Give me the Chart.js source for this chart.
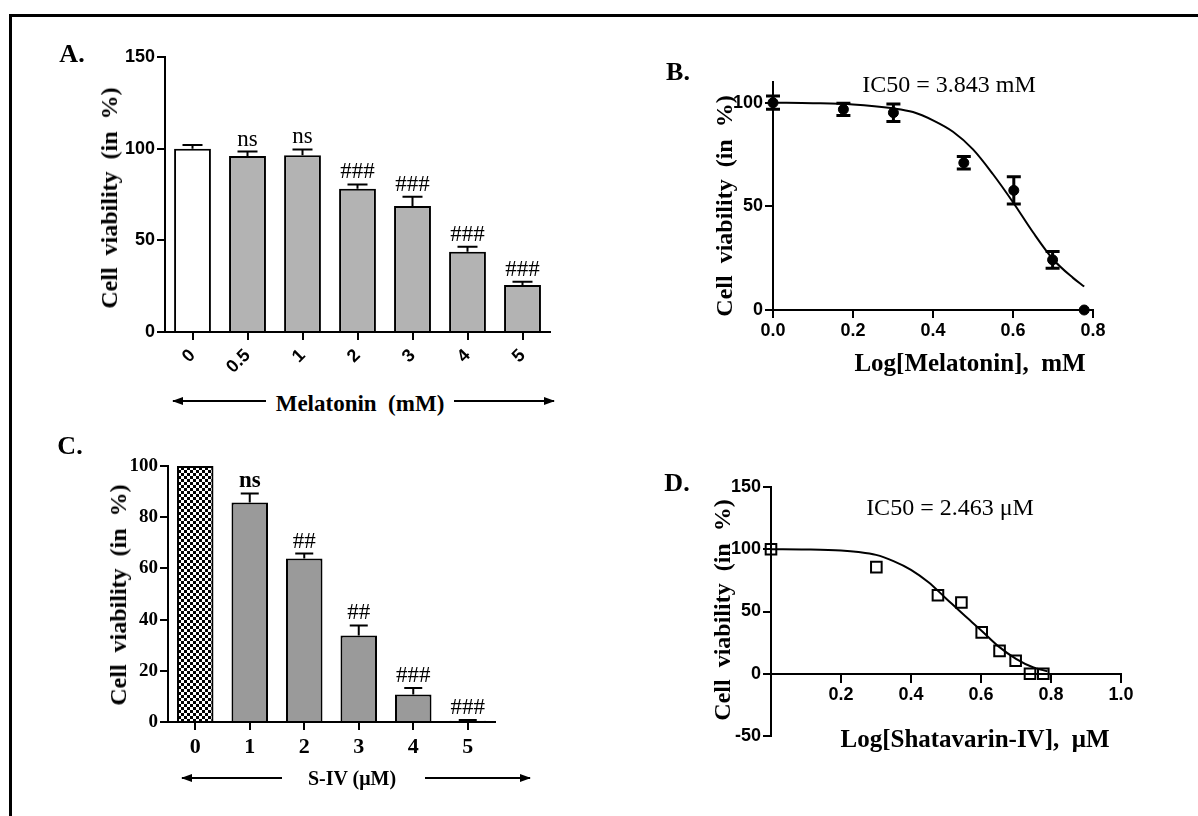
<!DOCTYPE html>
<html>
<head>
<meta charset="utf-8">
<script src="https://cdn.jsdelivr.net/npm/chart.js@4.4.1/dist/chart.umd.min.js"></script>
<style>
body { margin: 0; background: #fff; }
#fig { position: relative; width: 1198px; height: 816px; overflow: hidden; background: #fff; color: #000;
       font-family: 'Liberation Serif', 'Times New Roman', serif; }
#frame { position: absolute; left: 9px; top: 14px; width: 1300px; height: 900px;
         border-top: 3px solid #000; border-left: 3px solid #000; }
canvas { position: absolute; }
.t { position: absolute; white-space: pre; line-height: 1; transform: translate(-50%, -50%); }
.b { font-weight: bold; }
.rot { transform: translate(-50%, -50%) rotate(-90deg); }
</style>
</head>
<body>
<div id="fig">
  <div id="frame"></div>

  <canvas id="chartA" width="530" height="340" style="left:40px;top:40px"></canvas>
  <canvas id="chartB" width="480" height="290" style="left:680px;top:60px"></canvas>
  <canvas id="chartC" width="480" height="330" style="left:40px;top:440px"></canvas>
  <canvas id="chartD" width="480" height="290" style="left:680px;top:470px"></canvas>

  <!-- panel letters -->
  <div class="t b" style="left:72px;top:54px;font-size:26px">A.</div>
  <div class="t b" style="left:678px;top:72px;font-size:26px">B.</div>
  <div class="t b" style="left:70px;top:446px;font-size:26px">C.</div>
  <div class="t b" style="left:677px;top:483px;font-size:26px">D.</div>

  <!-- axis titles -->
  <div class="t b rot" style="left:109px;top:198px;font-size:24px">Cell  viability  (in  %)</div>
  <div class="t b rot" style="left:724px;top:206px;font-size:24px">Cell  viability  (in  %)</div>
  <div class="t b rot" style="left:118px;top:595px;font-size:24px">Cell  viability  (in  %)</div>
  <div class="t b rot" style="left:722px;top:610px;font-size:24px">Cell  viability  (in  %)</div>

  <div class="t b" style="left:360px;top:403px;font-size:23px">Melatonin  (mM)</div>
  <div class="t b" style="left:970px;top:362px;font-size:25px">Log[Melatonin],  mM</div>
  <div class="t b" style="left:352px;top:778px;font-size:20px">S-IV (μM)</div>
  <div class="t b" style="left:975px;top:738px;font-size:25px">Log[Shatavarin-IV],  μM</div>

  <div class="t" style="left:949px;top:84px;font-size:24px">IC50 = 3.843 mM</div>
  <div class="t" style="left:950px;top:507px;font-size:24px">IC50 = 2.463 μM</div>

  <svg width="1198" height="816" style="position:absolute;left:0;top:0">
    <defs>
      <marker id="ah" markerWidth="11" markerHeight="8" refX="10" refY="4" orient="auto" markerUnits="userSpaceOnUse">
        <path d="M0,0 L11,4 L0,8 z" fill="#000"/>
      </marker>
    </defs>
    <line x1="266" y1="401" x2="173" y2="401" stroke="#000" stroke-width="2" marker-end="url(#ah)"/>
    <line x1="454" y1="401" x2="554" y2="401" stroke="#000" stroke-width="2" marker-end="url(#ah)"/>
    <line x1="282" y1="778" x2="182" y2="778" stroke="#000" stroke-width="2" marker-end="url(#ah)"/>
    <line x1="425" y1="778" x2="530" y2="778" stroke="#000" stroke-width="2" marker-end="url(#ah)"/>
  </svg>
</div>

<script>
// ---- data ----
// A: melatonin bars
var melCats = ['0', '0.5', '1', '2', '3', '4', '5'];
var melVals = [100, 96, 96.4, 78.2, 68.7, 43.8, 25.6];
var melErr  = [2, 2.4, 3.2, 2.3, 5.1, 2.7, 1.8];
var melSig  = ['', 'ns', 'ns', '###', '###', '###', '###'];
var ticksAY = [0, 50, 100, 150];

// B: melatonin dose response
var melLog  = [0, 0.176, 0.301, 0.477, 0.602, 0.699, 0.778];
var melPts  = [100, 96.8, 95.2, 71, 57.7, 24.2, 0];
var melPtsErr = [3.2, 3, 4.2, 3, 6.6, 4, 0];
var fitBX   = [0, 0.1, 0.2, 0.3, 0.35, 0.4, 0.45, 0.5, 0.55, 0.6, 0.65, 0.7, 0.75, 0.778];
var fitBY   = [100, 99.8, 99.2, 97.3, 95.5, 91.5, 86, 77.5, 65.5, 52, 37.5, 24.5, 15.5, 11.3];
var ticksBX = [0, 0.2, 0.4, 0.6, 0.8];
var ticksBY = [0, 50, 100];

// C: S-IV bars
var sivCats = ['0', '1', '2', '3', '4', '5'];
var sivVals = [100, 85.7, 63.9, 33.8, 10.7, 0.5];
var sivErr  = [0, 3.6, 1.9, 3.9, 2.6, 0.3];
var sivSig  = ['', 'ns', '##', '##', '###', '###'];
var ticksCY = [0, 20, 40, 60, 80, 100];

// D: shatavarin dose response
var sivLog  = [0, 0.301, 0.477, 0.544, 0.602, 0.653, 0.699, 0.740, 0.778];
var sivPts  = [100, 85.6, 63.1, 57.2, 33.2, 18.4, 10.4, 0, 0];
var fitDX   = [0, 0.1, 0.2, 0.25, 0.3, 0.35, 0.4, 0.45, 0.5, 0.55, 0.6, 0.65, 0.7, 0.75, 0.79];
var fitDY   = [100, 99.8, 99, 97.8, 95.5, 90.5, 83.5, 73.5, 60.5, 47.5, 35, 22, 12, 5, 2];
var ticksDX = [0.2, 0.4, 0.6, 0.8, 1.0];
var ticksDY = [-50, 0, 50, 100, 150];

var SANS = "'Liberation Sans', Arial, sans-serif";
var SERIF = "'Liberation Serif', 'Times New Roman', serif";

Chart.defaults.color = '#000';
Chart.defaults.font.family = SANS;

function pts(xs, ys) {
    return xs.map(function (x, i) { return {x: x, y: ys[i]}; });
}

// error bars + significance marks, one plugin per chart
function errorBars(o) {
    return {
        id: 'errorBars',
        afterDatasetsDraw: function (chart) {
            var meta = chart.getDatasetMeta(o.dataset);
            var data = chart.data.datasets[o.dataset].data;
            var ys = chart.scales.y;
            var ctx = chart.ctx;
            ctx.save();
            ctx.strokeStyle = '#000';
            ctx.fillStyle = '#000';
            ctx.lineWidth = o.width;
            meta.data.forEach(function (el, i) {
                var v = typeof data[i] === 'object' ? data[i].y : data[i];
                var e = o.err[i];
                var x = el.x;
                var top = ys.getPixelForValue(v + e);
                var bot = ys.getPixelForValue(o.both ? v - e : v);
                if (e > 0) {
                    ctx.beginPath();
                    ctx.moveTo(x, bot);
                    ctx.lineTo(x, top);
                    ctx.moveTo(x - o.cap, top);
                    ctx.lineTo(x + o.cap, top);
                    if (o.both) {
                        ctx.moveTo(x - o.cap, bot);
                        ctx.lineTo(x + o.cap, bot);
                    }
                    ctx.stroke();
                }
                if (o.labels && o.labels[i]) {
                    var bold = (o.labels[i] === 'ns' && o.boldNs) ? 'bold ' : '';
                    ctx.font = bold + '23px ' + SERIF;
                    ctx.textAlign = 'center';
                    ctx.textBaseline = 'alphabetic';
                    ctx.fillText(o.labels[i], x, top - o.gap);
                }
            });
            ctx.restore();
        }
    };
}

function axisGrid() {
    return {display: true, drawOnChartArea: false, drawTicks: true, tickLength: 8, color: '#000', lineWidth: 2};
}
var axisBorder = {display: true, color: '#000', width: 2};

function checker() {
    var c = document.createElement('canvas');
    c.width = 6; c.height = 6;
    var g = c.getContext('2d');
    g.fillStyle = '#fff';
    g.fillRect(0, 0, 6, 6);
    g.fillStyle = '#000';
    g.fillRect(0, 0, 3, 3);
    g.fillRect(3, 3, 3, 3);
    return g.createPattern(c, 'repeat');
}

var common = {
    responsive: false,
    animation: false,
    events: []
};

// ---- A ----
new Chart(document.getElementById('chartA'), {
    type: 'bar',
    data: {
        labels: melCats,
        datasets: [{
            data: melVals,
            backgroundColor: melVals.map(function (v, i) { return i === 0 ? '#ffffff' : '#b3b3b3'; }),
            borderColor: '#000',
            borderWidth: 2,
            borderSkipped: 'bottom',
            barPercentage: 0.67,
            categoryPercentage: 1
        }]
    },
    options: Object.assign({}, common, {
        layout: {padding: {top: 17, right: 20, left: 0, bottom: 0}},
        plugins: {legend: {display: false}, tooltip: {enabled: false}},
        scales: {
            x: {
                grid: Object.assign(axisGrid(), {offset: false}),
                border: axisBorder,
                ticks: {minRotation: 45, maxRotation: 45, padding: 5, font: {size: 18, weight: 'bold'}},
                afterFit: function (s) { s.height = 48; }
            },
            y: {
                min: 0, max: 150,
                grid: axisGrid(),
                border: axisBorder,
                ticks: {padding: 2, font: {size: 18, weight: 'bold'}},
                afterBuildTicks: function (s) { s.ticks = ticksAY.map(function (v) { return {value: v}; }); },
                afterFit: function (s) { s.width = 125; }
            }
        }
    }),
    plugins: [errorBars({dataset: 0, err: melErr, both: false, cap: 10, width: 2, labels: melSig, gap: 6})]
});

// ---- B ----
new Chart(document.getElementById('chartB'), {
    type: 'scatter',
    data: {
        datasets: [{
            data: pts(fitBX, fitBY),
            showLine: true,
            pointRadius: 0,
            borderColor: '#000',
            borderWidth: 2,
            cubicInterpolationMode: 'monotone'
        }, {
            data: pts(melLog, melPts),
            pointRadius: 5,
            backgroundColor: '#000',
            borderColor: '#000',
            clip: false
        }]
    },
    options: Object.assign({}, common, {
        layout: {padding: {top: 22, right: 67, left: 0, bottom: 0}},
        plugins: {legend: {display: false}, tooltip: {enabled: false}},
        scales: {
            x: {
                type: 'linear', min: 0, max: 0.8,
                grid: axisGrid(),
                border: axisBorder,
                ticks: {padding: 2, font: {size: 18, weight: 'bold'}, callback: function (v) { return v.toFixed(1); }},
                afterBuildTicks: function (s) { s.ticks = ticksBX.map(function (v) { return {value: v}; }); },
                afterFit: function (s) { s.height = 40; }
            },
            y: {
                min: 0, max: 110,
                grid: axisGrid(),
                border: axisBorder,
                ticks: {padding: 2, font: {size: 18, weight: 'bold'}},
                afterBuildTicks: function (s) { s.ticks = ticksBY.map(function (v) { return {value: v}; }); },
                afterFit: function (s) { s.width = 93; }
            }
        }
    }),
    plugins: [errorBars({dataset: 1, err: melPtsErr, both: true, cap: 7, width: 3})]
});

// ---- C ----
new Chart(document.getElementById('chartC'), {
    type: 'bar',
    data: {
        labels: sivCats,
        datasets: [{
            data: sivVals,
            backgroundColor: sivVals.map(function (v, i) { return i === 0 ? checker() : '#9a9a9a'; }),
            borderColor: '#000',
            borderWidth: 2,
            borderSkipped: 'bottom',
            barPercentage: 0.67,
            categoryPercentage: 1
        }]
    },
    options: Object.assign({}, common, {
        layout: {padding: {top: 26, right: 25, left: 0, bottom: 0}},
        plugins: {legend: {display: false}, tooltip: {enabled: false}},
        scales: {
            x: {
                grid: Object.assign(axisGrid(), {offset: false}),
                border: axisBorder,
                ticks: {maxRotation: 0, padding: 4, font: {family: SERIF, size: 22, weight: 'bold'}},
                afterFit: function (s) { s.height = 48; }
            },
            y: {
                min: 0, max: 100,
                grid: axisGrid(),
                border: axisBorder,
                ticks: {padding: 2, font: {family: SERIF, size: 19, weight: 'bold'}},
                afterBuildTicks: function (s) { s.ticks = ticksCY.map(function (v) { return {value: v}; }); },
                afterFit: function (s) { s.width = 128; }
            }
        }
    }),
    plugins: [errorBars({dataset: 0, err: sivErr, both: false, cap: 9, width: 2, labels: sivSig, gap: 6, boldNs: true})]
});

// ---- D ----
new Chart(document.getElementById('chartD'), {
    type: 'scatter',
    data: {
        datasets: [{
            data: pts(fitDX, fitDY),
            showLine: true,
            pointRadius: 0,
            borderColor: '#000',
            borderWidth: 2,
            cubicInterpolationMode: 'monotone'
        }, {
            data: pts(sivLog, sivPts),
            pointStyle: 'rect',
            pointRadius: 7.5,
            backgroundColor: 'rgba(0,0,0,0)',
            borderColor: '#000',
            borderWidth: 2,
            clip: false
        }]
    },
    options: Object.assign({}, common, {
        layout: {padding: {top: 17, right: 39, left: 0, bottom: 24}},
        plugins: {legend: {display: false}, tooltip: {enabled: false}},
        scales: {
            x: {
                type: 'linear', min: 0, max: 1,
                position: {y: 0},
                grid: axisGrid(),
                border: axisBorder,
                ticks: {padding: 2, font: {size: 18, weight: 'bold'}, callback: function (v) { return v.toFixed(1); }},
                afterBuildTicks: function (s) { s.ticks = ticksDX.map(function (v) { return {value: v}; }); }
            },
            y: {
                min: -50, max: 150,
                grid: axisGrid(),
                border: axisBorder,
                ticks: {padding: 2, font: {size: 18, weight: 'bold'}},
                afterBuildTicks: function (s) { s.ticks = ticksDY.map(function (v) { return {value: v}; }); },
                afterFit: function (s) { s.width = 91; }
            }
        }
    })
});
</script>
</body>
</html>
